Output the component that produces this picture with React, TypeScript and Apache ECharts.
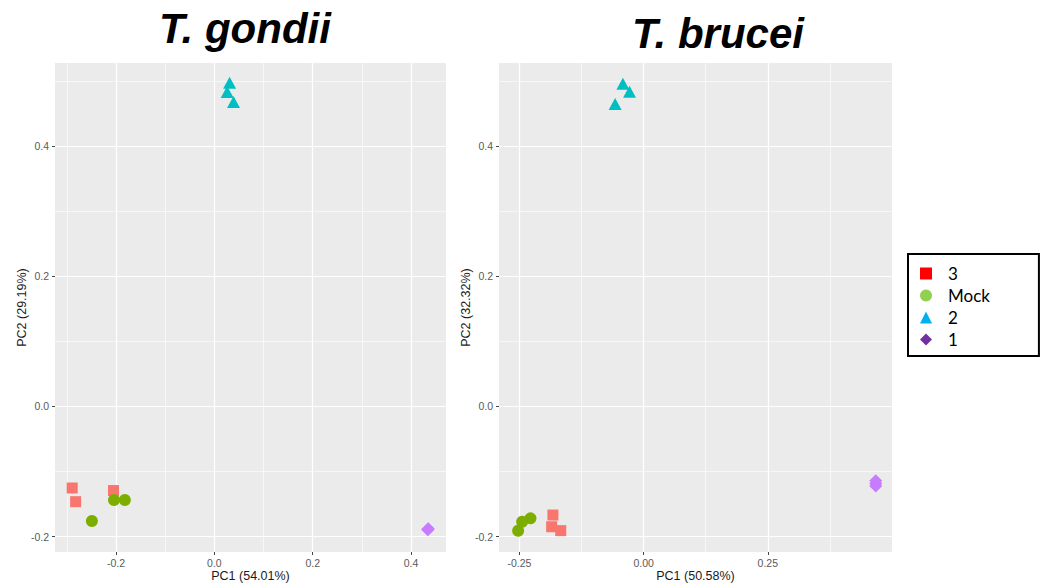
import React, { useEffect, useRef } from "react";
import * as echarts from "echarts";

const groups = ["3", "Mock", "2", "1"];
const plotColors = ["#F8766D", "#7CAE00", "#00BFC4", "#C77CFF"];
const legendColors = ["#FF0000", "#92D050", "#00B0F0", "#7030A0"];
const symbols = ["rect", "circle", "triangle", "diamond"];
const symbolSizes: any[] = [11, 12, [13, 12], 13];

// T. gondii panel: [PC1, PC2]
const gondii3 = [[-0.289, -0.1255], [-0.282, -0.1465], [-0.205, -0.1294]];
const gondiiMock = [[-0.204, -0.144], [-0.182, -0.144], [-0.249, -0.1762]];
const gondii2 = [[0.031, 0.497], [0.026, 0.4831], [0.039, 0.4677]];
const gondii1 = [[0.434, -0.189], [0.435, -0.188], [0.434, -0.1895]];

// T. brucei panel
const brucei3 = [[-0.1826, -0.167], [-0.1852, -0.185], [-0.1669, -0.191]];
const bruceiMock = [[-0.2527, -0.1911], [-0.2446, -0.1773], [-0.2278, -0.1721]];
const brucei2 = [[-0.0418, 0.4956], [-0.0284, 0.4834], [-0.0574, 0.4645]];
const brucei1 = [[0.4673, -0.1143], [0.4673, -0.1225], [0.4673, -0.1184]];

const titles = ["T. gondii", "T. brucei"];
const xNames = ["PC1 (54.01%)", "PC1 (50.58%)"];
const yNames = ["PC2 (29.19%)", "PC2 (32.32%)"];
const xTicksLeft = [-0.2, 0.0, 0.2, 0.4];
const xTicksRight = [-0.25, 0.0, 0.25];
const yTicks = [-0.2, 0.0, 0.2, 0.4];

const panelData = [
  [gondii3, gondiiMock, gondii2, gondii1],
  [brucei3, bruceiMock, brucei2, brucei1],
];

const FONT = "Liberation Sans";

export default function App() {
  const ref = useRef<HTMLDivElement>(null);
  useEffect(() => {
    document.body.style.margin = "0";
    if (!ref.current) return;
    const chart = echarts.init(ref.current, null, { renderer: "svg" });

    const mkX = (idx: number, min: number, max: number, step: number, ticks: number[], digits: number) => ({
      type: "value",
      gridIndex: idx,
      min,
      max,
      minInterval: step,
      maxInterval: step,
      name: xNames[idx],
      nameLocation: "middle",
      nameGap: 17,
      nameMoveOverlap: false,
      nameTextStyle: { fontFamily: FONT, fontSize: 12.5, color: "#1a1a1a" },
      axisLine: { show: false, onZero: false },
      axisTick: { show: true, length: 3, lineStyle: { color: "#444", width: 1 }, customValues: ticks },
      axisLabel: {
        show: true,
        margin: 5,
        fontFamily: FONT,
        fontSize: 10.5,
        color: "#5a5a5a",
        customValues: ticks,
        formatter: (v: number) => v.toFixed(digits),
      },
      splitLine: { show: true, lineStyle: { color: "#ffffff", width: 1.2 } },
      minorTick: { show: false, splitNumber: 2 },
      minorSplitLine: { show: true, lineStyle: { color: "#ffffff", width: 0.6 } },
    });

    const mkY = (idx: number) => ({
      type: "value",
      gridIndex: idx,
      min: -0.2238,
      max: 0.5275,
      minInterval: 0.2,
      maxInterval: 0.2,
      name: yNames[idx],
      nameLocation: "middle",
      nameRotate: 90,
      nameGap: 27,
      nameMoveOverlap: false,
      nameTextStyle: { fontFamily: FONT, fontSize: 12.5, color: "#1a1a1a" },
      axisLine: { show: false, onZero: false },
      axisTick: { show: true, length: 3, lineStyle: { color: "#444", width: 1 }, customValues: yTicks },
      axisLabel: {
        show: true,
        margin: 6,
        fontFamily: FONT,
        fontSize: 10.5,
        color: "#5a5a5a",
        customValues: yTicks,
        formatter: (v: number) => v.toFixed(1),
      },
      splitLine: { show: true, lineStyle: { color: "#ffffff", width: 1.2 } },
      minorTick: { show: false, splitNumber: 2 },
      minorSplitLine: { show: true, lineStyle: { color: "#ffffff", width: 0.6 } },
    });

    const series: any[] = [];
    panelData.forEach((panel, p) => {
      panel.forEach((pts, g) => {
        series.push({
          type: "scatter",
          name: groups[g],
          xAxisIndex: p,
          yAxisIndex: p,
          data: pts,
          symbol: symbols[g],
          symbolSize: symbolSizes[g],
          itemStyle: { color: plotColors[g], opacity: 1 },
          emphasis: { disabled: true },
        });
      });
    });

    const option: any = {
      animation: false,
      backgroundColor: "#ffffff",
      grid: [
        { left: 55, top: 63, width: 391, height: 489, show: true, backgroundColor: "#EBEBEB", borderWidth: 0, containLabel: false, outerBoundsMode: "none" },
        { left: 499, top: 63, width: 393, height: 489, show: true, backgroundColor: "#EBEBEB", borderWidth: 0, containLabel: false, outerBoundsMode: "none" },
      ],
      xAxis: [
        mkX(0, -0.324, 0.471, 0.2, xTicksLeft, 1),
        mkX(1, -0.2912, 0.5, 0.25, xTicksRight, 2),
      ],
      yAxis: [mkY(0), mkY(1)],
      legend: {
        orient: "vertical",
        left: 908,
        top: 254,
        padding: [11, 49, 8, 12],
        borderColor: "#000000",
        borderWidth: 2,
        itemWidth: 12,
        itemHeight: 12,
        itemGap: 5,
        selectedMode: false,
        textStyle: { fontFamily: "Lato", fontSize: 17, color: "#000000", lineHeight: 17, padding: [0, 0, 0, 11] },
        data: groups.map((g, i) => ({
          name: g,
          icon: symbols[i],
          itemStyle: { color: legendColors[i] },
        })),
      },
      graphic: [
        {
          type: "text",
          x: 245,
          y: 28.5,
          style: {
            text: titles[0],
            fontFamily: FONT,
            fontSize: 42,
            fontWeight: "bold",
            fontStyle: "italic",
            fill: "#000000",
            textAlign: "center",
            textVerticalAlign: "middle",
          },
        },
        {
          type: "text",
          x: 718,
          y: 33.5,
          style: {
            text: titles[1],
            fontFamily: FONT,
            fontSize: 42,
            fontWeight: "bold",
            fontStyle: "italic",
            fill: "#000000",
            textAlign: "center",
            textVerticalAlign: "middle",
          },
        },
      ],
      series,
    };
    chart.setOption(option);
    return () => chart.dispose();
  }, []);
  return <div ref={ref} style={{ width: 1046, height: 584 }} />;
}
